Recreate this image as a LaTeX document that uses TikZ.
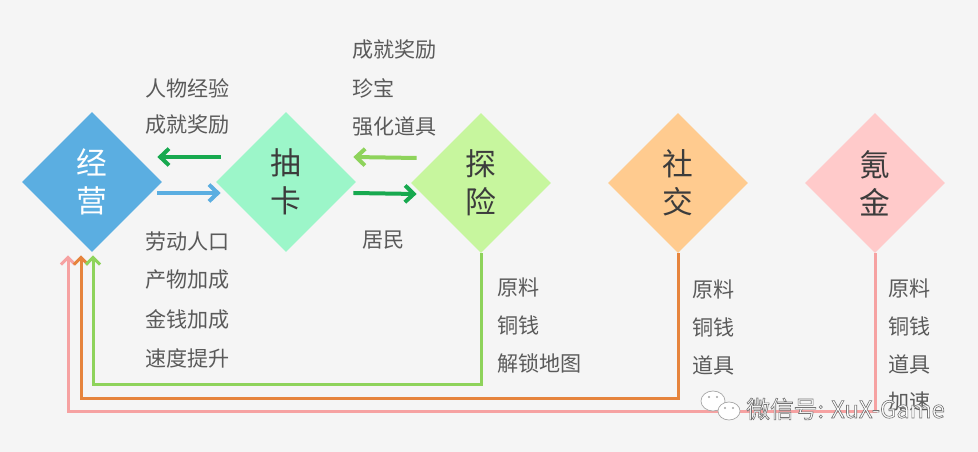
\documentclass[tikz,border=0pt]{standalone}
\usepackage{fontspec}
\setmainfont{Noto Sans CJK SC}
\usepackage{tikz}
\usetikzlibrary{arrows.meta, shapes.geometric, positioning}
\definecolor{bgc}{HTML}{F5F5F5}
\definecolor{jyBlue}{HTML}{5BAEE1}
\definecolor{ckMint}{HTML}{9CF6C9}
\definecolor{txLime}{HTML}{C7F69E}
\definecolor{sjPeach}{HTML}{FFCB8F}
\definecolor{kjPink}{HTML}{FFCACA}
\definecolor{dkGreen}{HTML}{17A94F}
\definecolor{ltGreen}{HTML}{8ED35B}
\definecolor{lnOrange}{HTML}{E6843D}
\definecolor{lnPink}{HTML}{F6A2A2}
\definecolor{inkOne}{HTML}{3C3C3C}
\definecolor{inkTwo}{HTML}{5A5A5A}
\newcommand{\outlinetext}[1]{\special{pdf:literal direct 2 Tr 0.35 w 0.45 0.45 0.45 RG 1 1 1 rg}#1\special{pdf:literal direct 0 Tr}}
\tikzset{
  dia/.style={diamond, aspect=1, minimum width=2.8cm, minimum height=2.8cm, inner sep=0pt, draw=none,
    align=center, text=inkOne, font=\fontsize{17.5}{21.5}\selectfont},
  lab/.style={anchor=west, inner sep=0pt, text=inkTwo, font=\fontsize{12}{14}\selectfont},
  arr/.style={line width=0.08cm, -{Straight Barb[length=5pt, width=9.5pt]}},
  fb/.style={line width=0.06cm, -{Straight Barb[length=4pt, width=8pt]}},
}
\begin{document}
\begin{tikzpicture}[x=0.02cm, y=-0.02cm]
  \fill[bgc] (0,0) rectangle (978,452);
  \useasboundingbox (0,0) rectangle (978,452);
  % ---- the five loops
  \node[dia, fill=jyBlue, text=white] (jy) at (92,182) {经\\营};
  \node[dia, fill=ckMint] (ck) at (286,182) {抽\\卡};
  \node[dia, fill=txLime] (tx) at (481,183) {探\\险};
  \node[dia, fill=sjPeach] (sj) at (678,183) {社\\交};
  \node[dia, fill=kjPink] (kj) at (875,183) {氪\\金};
  % ---- arrows between neighbours
  \draw[arr, dkGreen] ([shift={(5,-25)}]ck.west) -- ([shift={(-5,-25)}]jy.east);
  \draw[arr, jyBlue] ([shift={(-5,11)}]jy.east) -- ([shift={(5,11)}]ck.west);
  \draw[arr, ltGreen] ([shift={(6,-25)}]tx.west) -- ([shift={(-3,-25)}]ck.east);
  \draw[arr, dkGreen] ([shift={(-3,11)}]ck.east) -- ([shift={(6,11)}]tx.west);
  % ---- feedback lines back to jy
  \draw[fb, lnPink] (kj.south) -- ++(0,158) -| ([shift={(-24,3)}]jy.south);
  \draw[fb, lnOrange] (sj.south) -- ++(0,145) -| ([shift={(-11,3)}]jy.south);
  \draw[fb, ltGreen] (tx.south) -- ++(0,131) -| ([shift={(1,3)}]jy.south);
  % ---- labels
  \foreach \t [count=\i] in {人物经验, 成就奖励}
    \node[lab] (jyu\i) at (145, 88+37*\i-37) {\t};
  \foreach \t [count=\i] in {劳动人口, 产物加成, 金钱加成, 速度提升}
    \node[lab] (jyd\i) at (145, 241+39*\i-39) {\t};
  \foreach \t [count=\i] in {成就奖励, 珍宝, 强化道具}
    \node[lab] (txu\i) at (352, 50+38.5*\i-38.5) {\t};
  \node[lab] (ckd) at (362,240) {居民};
  \foreach \t [count=\i] in {原料, 铜钱, 解锁地图}
    \node[lab] (txd\i) at (497, 287+38*\i-38) {\t};
  \foreach \t [count=\i] in {原料, 铜钱, 道具}
    \node[lab] (sjd\i) at (692, 289+38*\i-38) {\t};
  \foreach \t [count=\i] in {原料, 铜钱, 道具, 加速}
    \node[lab] (kjd\i) at (888, 288+38*\i-38) {\t};
  % ---- watermark
  \draw[fill=white, draw=gray!70, line width=0.4pt] (713,401) ellipse (12 and 10);
  \draw[fill=white, draw=gray!70, line width=0.4pt] (729,411) ellipse (11 and 9);
  \foreach \x/\y in {709/397, 717/397, 725/408, 733/408}
    \fill[gray!70] (\x,\y) circle (1.1);
  \node[anchor=west, inner sep=0pt, font=\fontsize{13.5}{15}\selectfont] (wm) at (746,409) {\outlinetext{微信号: XuX-Game}};
\end{tikzpicture}
\end{document}
